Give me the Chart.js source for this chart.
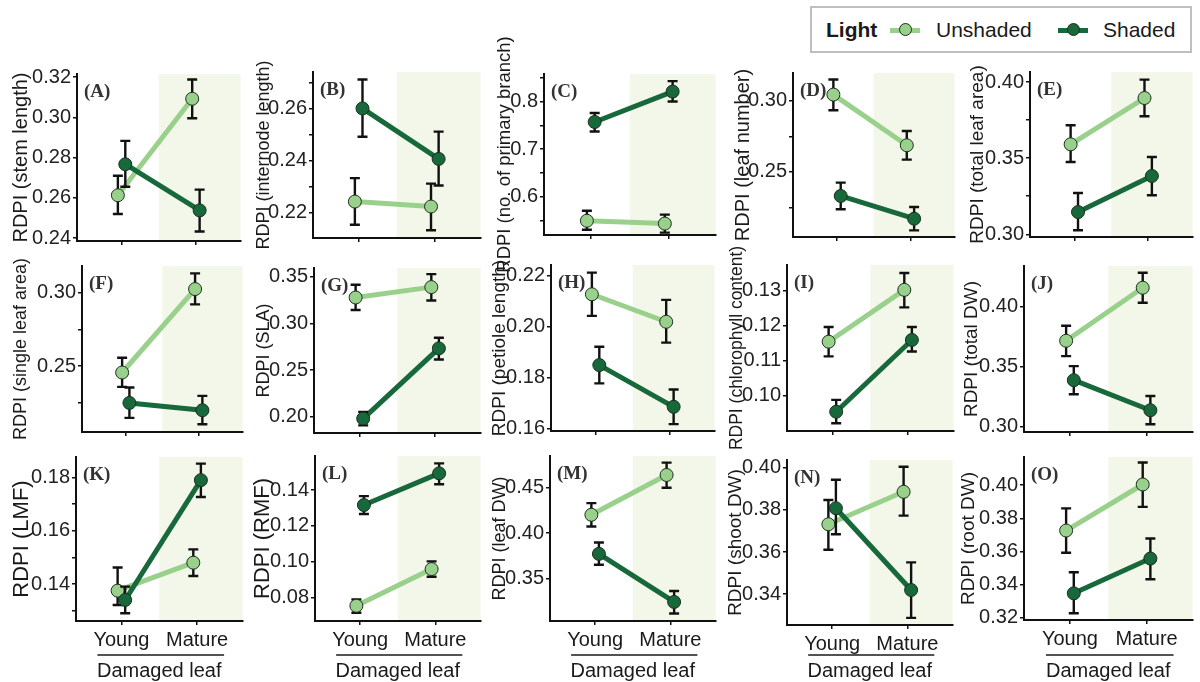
<!DOCTYPE html>
<html>
<head>
<meta charset="utf-8">
<script src="https://cdn.jsdelivr.net/npm/chart.js@4.4.1/dist/chart.umd.min.js"></script>
<style>
  html, body { margin: 0; padding: 0; background: #fff; overflow: hidden; }
  #page { position: relative; width: 1200px; height: 682px; font-family: "Liberation Sans", Arial, sans-serif; }
  #page canvas { position: absolute; }
  #legend { position: absolute; left: 810px; top: 6px; width: 382px; height: 47px; box-sizing: border-box; border: 2px solid #bfbfbf; background: #fff; }
  .lg-text { position: absolute; top: 10px; font-size: 21px; line-height: 24px; color: #1a1a1a; white-space: nowrap; }
  .lg-line { position: absolute; top: 20px; width: 30px; height: 5px; }
  .lg-dot { position: absolute; top: 15px; width: 13px; height: 13px; border-radius: 50%; box-sizing: border-box; border: 1px solid #1d2f1f; }
</style>
</head>
<body>
<div id="page">
  <div id="legend">
    <span class="lg-text" style="left:14px;font-weight:bold">Light</span>
    <span class="lg-line" style="left:78px;background:#99d18c"></span>
    <span class="lg-dot" style="left:87px;background:#99d18c"></span>
    <span class="lg-text" style="left:124px">Unshaded</span>
    <span class="lg-line" style="left:246px;background:#17683a"></span>
    <span class="lg-dot" style="left:255px;background:#17683a"></span>
    <span class="lg-text" style="left:291px">Shaded</span>
  </div>
</div>
<script>
// ---- data ----
const panelLabels = ['(A)', '(B)', '(C)', '(D)', '(E)', '(F)', '(G)', '(H)', '(I)', '(J)', '(K)', '(L)', '(M)', '(N)', '(O)'];
const yTitles = [
  'RDPI (stem length)', 'RDPI (internode length)', 'RDPI (no. of primary branch)', 'RDPI (leaf number)', 'RDPI (total leaf area)',
  'RDPI (single leaf area)', 'RDPI (SLA)', 'RDPI (petiole length)', 'RDPI (chlorophyll content)', 'RDPI (total DW)',
  'RDPI (LMF)', 'RDPI (RMF)', 'RDPI (leaf DW)', 'RDPI (shoot DW)', 'RDPI (root DW)'
];
const xCategories = ['Young', 'Mature'];
const xTitle = 'Damaged leaf';

const unshadedMean = [
  [0.2613, 0.3092], [0.2242, 0.2223], [0.549, 0.543], [0.3045, 0.2688], [0.3591, 0.3895],
  [0.2457, 0.3025], [0.3275, 0.3386], [0.2127, 0.2019], [0.1155, 0.1303], [0.3717, 0.4158],
  [0.1375, 0.148], [0.0753, 0.0958], [0.4202, 0.464], [0.3732, 0.3886], [0.3726, 0.4004]
];
const unshadedLow = [
  [0.252, 0.2995], [0.2153, 0.2132], [0.530, 0.524], [0.2935, 0.2587], [0.3475, 0.3775],
  [0.2359, 0.2921], [0.3142, 0.3243], [0.2042, 0.1937], [0.1113, 0.1253], [0.3589, 0.4033],
  [0.1321, 0.143], [0.0714, 0.0915], [0.4073, 0.45], [0.3611, 0.3773], [0.3592, 0.3869]
];
const unshadedHigh = [
  [0.271, 0.3188], [0.2332, 0.2311], [0.570, 0.562], [0.3151, 0.2789], [0.3716, 0.4016],
  [0.2557, 0.3132], [0.3411, 0.3525], [0.2212, 0.2105], [0.1197, 0.1351], [0.3842, 0.4283],
  [0.1462, 0.153], [0.0789, 0.1001], [0.433, 0.4776], [0.3847, 0.4005], [0.386, 0.4137]
];
const shadedMean = [
  [0.2767, 0.2538], [0.260, 0.2406], [0.757, 0.821], [0.2331, 0.2171], [0.3146, 0.3383],
  [0.225, 0.220], [0.1983, 0.2732], [0.1849, 0.1685], [0.0955, 0.116], [0.3389, 0.3139],
  [0.134, 0.179], [0.1316, 0.1493], [0.3772, 0.3243], [0.3808, 0.342], [0.3347, 0.3557]
];
const shadedLow = [
  [0.2655, 0.2433], [0.2491, 0.2304], [0.737, 0.800], [0.2237, 0.2089], [0.3026, 0.3256],
  [0.2148, 0.2105], [0.191, 0.2614], [0.1777, 0.1617], [0.0922, 0.1127], [0.3272, 0.3022],
  [0.129, 0.1727], [0.1266, 0.1432], [0.3652, 0.3115], [0.3685, 0.3288], [0.3227, 0.3432]
];
const shadedHigh = [
  [0.2883, 0.2641], [0.2711, 0.2511], [0.776, 0.843], [0.2425, 0.2253], [0.3271, 0.3508],
  [0.2355, 0.2298], [0.2054, 0.2846], [0.1921, 0.1753], [0.0989, 0.1197], [0.3506, 0.3258],
  [0.139, 0.1852], [0.1366, 0.1549], [0.3897, 0.3364], [0.3943, 0.3551], [0.3474, 0.3678]
];

const yRange = [
  [0.2386, 0.3215], [0.2102, 0.274], [0.519, 0.858], [0.2042, 0.3197], [0.2982, 0.4066],
  [0.2052, 0.3182], [0.1829, 0.359], [0.159, 0.2242], [0.090, 0.1374], [0.2958, 0.4339],
  [0.1261, 0.1877], [0.0668, 0.159], [0.3033, 0.4849], [0.3254, 0.4037], [0.3186, 0.417]
];
const yTickValues = [
  [0.24, 0.26, 0.28, 0.30, 0.32], [0.22, 0.23, 0.24, 0.25, 0.26, 0.27], [0.55, 0.6, 0.65, 0.7, 0.75, 0.8, 0.85],
  [0.225, 0.25, 0.275, 0.30], [0.30, 0.325, 0.35, 0.375, 0.40],
  [0.225, 0.25, 0.275, 0.30], [0.20, 0.25, 0.30, 0.35], [0.16, 0.18, 0.20, 0.22], [0.10, 0.11, 0.12, 0.13], [0.30, 0.35, 0.40],
  [0.13, 0.14, 0.15, 0.16, 0.17, 0.18], [0.08, 0.10, 0.12, 0.14], [0.35, 0.40, 0.45], [0.34, 0.36, 0.38, 0.40], [0.32, 0.34, 0.36, 0.38, 0.40]
];
const yTickLabels = [
  ['0.24', '0.26', '0.28', '0.30', '0.32'], ['0.22', '', '0.24', '', '0.26', ''], ['', '0.6', '', '0.7', '', '0.8', ''],
  ['', '0.25', '', '0.30'], ['0.30', '', '0.35', '', '0.40'],
  ['', '0.25', '', '0.30'], ['0.20', '0.25', '0.30', '0.35'], ['0.16', '0.18', '0.20', '0.22'], ['0.10', '0.11', '0.12', '0.13'], ['0.30', '0.35', '0.40'],
  ['', '0.14', '', '0.16', '', '0.18'], ['0.08', '0.10', '0.12', '0.14'], ['0.35', '0.40', '0.45'], ['0.34', '0.36', '0.38', '0.40'], ['0.32', '0.34', '0.36', '0.38', '0.40']
];

// ---- layout (plot area in page pixels: left, top, right, bottom) ----
const plotBoxes = [
  [77, 74, 248, 241], [313, 72, 488, 238], [544, 74, 723, 235], [793, 73, 962, 237], [1030, 72, 1200, 237],
  [82, 266, 250, 432], [314, 268, 488, 433], [551, 265, 722, 431], [787, 265, 961, 431], [1024, 266, 1200, 432],
  [76, 457, 250, 621], [315, 456, 488, 621], [550, 456, 723, 621], [787, 460, 960, 625], [1024, 457, 1200, 620]
];
const titleOffsets = [56, 49, 39, 50, 52, 61, 50, 51, 50, 52, 54, 52, 50, 51, 55];
const titleSizes = [20, 18, 18.5, 20, 19, 18, 18, 19, 17.5, 19, 22, 22, 18, 19, 19];

const LIGHT = '#99d18c';
const DARK = '#17683a';
const SHADE = '#f2f7e9';
const INK = '#1a1a1a';
const FONT = '"Liberation Sans", Arial, sans-serif';
const AXIS_W = 80;
const PAD_TOP = 50;
const PAGE_BOTTOM = 683;

Chart.defaults.font.family = FONT;

const panelDecor = {
  id: 'panelDecor',
  beforeDraw(chart) {
    const { ctx, chartArea: a, scales: { x } } = chart;
    const x0 = x.getPixelForValue(1.5);
    ctx.save();
    ctx.fillStyle = SHADE;
    ctx.fillRect(x0, a.top, a.right - x0, a.bottom - a.top);
    ctx.restore();
  },
  beforeDatasetDraw(chart, args) {
    const ds = chart.data.datasets[args.index];
    if (!ds.errLow) return;
    const { ctx, scales: { x, y } } = chart;
    ctx.save();
    ctx.strokeStyle = '#111';
    ctx.lineWidth = 2.4;
    ds.data.forEach((p, k) => {
      const px = x.getPixelForValue(p.x);
      const lo = y.getPixelForValue(ds.errLow[k]);
      const hi = y.getPixelForValue(ds.errHigh[k]);
      ctx.beginPath();
      ctx.moveTo(px, lo); ctx.lineTo(px, hi);
      ctx.moveTo(px - 5, lo); ctx.lineTo(px + 5, lo);
      ctx.moveTo(px - 5, hi); ctx.lineTo(px + 5, hi);
      ctx.stroke();
    });
    ctx.restore();
  },
  afterDraw(chart, args, opts) {
    const { ctx, chartArea: a, scales: { x } } = chart;
    ctx.save();
    ctx.fillStyle = '#333';
    ctx.font = 'bold 19px "Liberation Serif", "Times New Roman", serif';
    ctx.textBaseline = 'middle';
    ctx.fillText(opts.label, a.left + 7, a.top + 18);
    if (opts.underline) {
      const yy = chart.height - 28;
      ctx.strokeStyle = INK;
      ctx.lineWidth = 1.6;
      ctx.beginPath();
      ctx.moveTo(x.getPixelForValue(1) - 24, yy);
      ctx.lineTo(x.getPixelForValue(2) + 27, yy);
      ctx.stroke();
    }
    ctx.restore();
  }
};

const page = document.getElementById('page');
const dodge = [-0.05, 0.05];

function points(means, s) {
  return means.map((v, k) => ({ x: k + 1 + dodge[s], y: v }));
}

function makePanel(i) {
  const [L, T, R, B] = plotBoxes[i];
  const lastRow = i >= 10;
  const bottomH = lastRow ? PAGE_BOTTOM - B : 40;
  const w = R - L + AXIS_W;
  const h = B - T + PAD_TOP + bottomH;
  const canvas = document.createElement('canvas');
  canvas.width = w;
  canvas.height = h;
  canvas.style.left = (L - AXIS_W) + 'px';
  canvas.style.top = (T - PAD_TOP) + 'px';
  canvas.style.width = w + 'px';
  canvas.style.height = h + 'px';
  page.appendChild(canvas);

  const uPts = points(unshadedMean[i], 0);
  const sPts = points(shadedMean[i], 1);
  const marker = (c) => ({ showLine: false, pointRadius: 6.5, pointBackgroundColor: c, pointBorderColor: '#1d2f1f', pointBorderWidth: 1 });
  const tickGrid = { display: true, drawOnChartArea: false, drawTicks: true, tickLength: 4, color: '#111', lineWidth: 1.5 };
  const tSize = titleSizes[i];

  new Chart(canvas, {
    type: 'line',
    data: {
      datasets: [
        Object.assign({ label: 'Shaded', data: sPts, errLow: shadedLow[i], errHigh: shadedHigh[i] }, marker(DARK)),
        Object.assign({ label: 'Unshaded', data: uPts, errLow: unshadedLow[i], errHigh: unshadedHigh[i] }, marker(LIGHT)),
        { label: 'Shaded line', data: sPts, borderColor: DARK, borderWidth: 5, pointRadius: 0, fill: false },
        { label: 'Unshaded line', data: uPts, borderColor: LIGHT, borderWidth: 5, pointRadius: 0, fill: false }
      ]
    },
    options: {
      responsive: false,
      animation: false,
      devicePixelRatio: 1,
      layout: { padding: { top: PAD_TOP, left: 0, right: 0, bottom: 0 } },
      plugins: {
        legend: { display: false },
        tooltip: { enabled: false },
        panelDecor: { label: panelLabels[i], underline: lastRow }
      },
      scales: {
        x: {
          type: 'linear',
          min: 0.4,
          max: 2.6,
          afterBuildTicks: (s) => { s.ticks = xCategories.map((c, k) => ({ value: k + 1 })); },
          afterFit: (s) => { s.height = bottomH; },
          border: { display: true, color: '#111', width: 2 },
          grid: tickGrid,
          ticks: {
            display: lastRow,
            autoSkip: false,
            maxRotation: 0,
            padding: 3,
            color: INK,
            font: { size: 20 },
            callback: (v) => xCategories[Math.round(v) - 1]
          },
          title: { display: lastRow, text: xTitle, color: INK, font: { size: 20 }, padding: { top: 0, bottom: 0 } }
        },
        y: {
          type: 'linear',
          min: yRange[i][0],
          max: yRange[i][1],
          afterBuildTicks: (s) => { s.ticks = yTickValues[i].map((v) => ({ value: v })); },
          afterFit: (s) => { s.width = AXIS_W; },
          border: { display: true, color: '#111', width: 2 },
          grid: tickGrid,
          ticks: {
            autoSkip: false,
            padding: 2,
            color: '#222',
            font: { size: 20 },
            callback: (v, k) => yTickLabels[i][k]
          },
          title: {
            display: true,
            text: yTitles[i],
            color: INK,
            font: { size: tSize },
            padding: { top: AXIS_W - titleOffsets[i] - tSize * 0.6, bottom: 0 }
          }
        }
      }
    },
    plugins: [panelDecor]
  });
}

for (let i = 0; i < panelLabels.length; i++) makePanel(i);
</script>
</body>
</html>
